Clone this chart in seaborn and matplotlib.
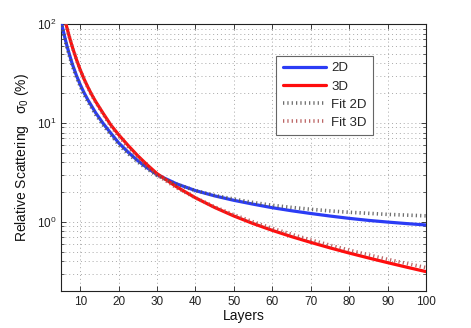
import matplotlib
matplotlib.use("Agg")
import matplotlib.pyplot as plt
import seaborn as sns
import numpy as np
from matplotlib.ticker import LogLocator, FixedLocator, NullFormatter

# ---- data ----
x_2d = [5.2, 5.5, 6, 6.5, 7, 7.5, 8, 9, 10, 11, 12, 14, 16, 18, 20, 22.5, 25, 27.5, 30,
        35, 40, 45, 50, 55, 60, 65, 70, 75, 80, 85, 90, 95, 100]
y_2d = [100, 88.4, 73, 61.2, 52.2, 44.9, 38.8, 30.3, 24.4, 20.2, 17.1, 12.7, 9.85, 7.85,
        6.3, 5.05, 4.15, 3.5, 3.0, 2.43, 2.07, 1.83, 1.65, 1.51, 1.39, 1.295, 1.215, 1.145,
        1.085, 1.035, 0.995, 0.96, 0.93]

x_3d = [6.3, 6.5, 7, 7.5, 8, 9, 10, 11, 12, 13, 14, 16, 18, 20, 22.5, 25, 27.5, 30,
        35, 40, 45, 50, 55, 60, 65, 70, 75, 80, 85, 90, 95, 100]
y_3d = [100, 93.1, 78.5, 67, 57.7, 44, 34.5, 27.8, 23.0, 19.3, 16.5, 12.45, 9.5, 7.6,
        5.9, 4.65, 3.75, 3.07, 2.27, 1.75, 1.397, 1.146, 0.961, 0.82, 0.709, 0.62, 0.546,
        0.484, 0.432, 0.387, 0.348, 0.314]

x_fit2d = [5.2, 5.5, 6, 6.5, 7, 7.5, 8, 9, 10, 11, 12, 14, 16, 18, 20, 22.5, 25, 27.5, 30,
           35, 40, 45, 50, 55, 60, 65, 70, 75, 80, 85, 90, 95, 100]
y_fit2d = [96, 85, 70, 58.8, 50.1, 43.1, 37.2, 29.1, 23.4, 19.4, 16.4, 12.2, 9.46, 7.54,
           6.05, 4.87, 4.02, 3.41, 2.94, 2.41, 2.07, 1.85, 1.7, 1.57, 1.47, 1.4, 1.34, 1.29,
           1.25, 1.22, 1.19, 1.17, 1.15]

x_fit3d = [6.3, 6.5, 7, 7.5, 8, 9, 10, 11, 12, 13, 14, 16, 18, 20, 22.5, 25, 27.5, 30,
           35, 40, 45, 50, 55, 60, 65, 70, 75, 80, 85, 90, 95, 100]
y_fit3d = [100, 93, 78.3, 66.8, 57.5, 43.8, 34.3, 27.6, 22.8, 19.1, 16.3, 12.2, 9.27, 7.37,
           5.72, 4.51, 3.64, 2.98, 2.22, 1.75, 1.418, 1.18, 1.0, 0.861, 0.748, 0.657, 0.581,
           0.518, 0.464, 0.418, 0.379, 0.345]

x_ticks = [10, 20, 30, 40, 50, 60, 70, 80, 90, 100]

# ---- figure ----
sns.set_style("ticks")
plt.rcParams['font.family'] = ['Liberation Sans', 'DejaVu Sans']
plt.rcParams['mathtext.fontset'] = 'custom'
plt.rcParams['mathtext.rm'] = 'Liberation Sans'
plt.rcParams['mathtext.it'] = 'Liberation Sans:italic'

fig = plt.figure(figsize=(4.71, 3.28), dpi=100)
ax = fig.add_axes([61/471, 1-291/328, (426-61)/471, (291-24)/328])

blue = '#2b3cf5'
red = '#ff0d0d'

sns.lineplot(x=x_2d, y=y_2d, ax=ax, color=blue, lw=2.3, label='2D', zorder=3)
sns.lineplot(x=x_3d, y=y_3d, ax=ax, color=red, lw=2.3, label='3D', zorder=3)
sns.lineplot(x=x_fit2d, y=y_fit2d, ax=ax, color='#555555', lw=2.6, label='Fit 2D', zorder=4)
sns.lineplot(x=x_fit3d, y=y_fit3d, ax=ax, color='#b04a4a', lw=2.6, label='Fit 3D', zorder=4)
lines = ax.get_lines()
for ln in lines[2:4]:
    ln.set_dashes((0.35, 0.85))
    ln.set_alpha(0.85)

ax.set_yscale('log')
ax.set_xlim(5, 100)
ax.set_ylim(0.2, 100)
ax.xaxis.set_major_locator(FixedLocator(x_ticks))
ax.yaxis.set_major_locator(LogLocator(base=10, numticks=10))
ax.yaxis.set_minor_locator(LogLocator(base=10, subs=np.arange(2, 10), numticks=20))
ax.yaxis.set_minor_formatter(NullFormatter())

grid_kw = dict(ls=(0, (1, 3)), lw=0.7, color='#a8a8a8')
ax.grid(True, which='major', axis='both', **grid_kw)
ax.grid(True, which='minor', axis='y', **grid_kw)

ax.tick_params(which='both', direction='in', top=True, right=True, labelsize=8.5,
               colors='#222222')
ax.tick_params(which='major', length=3.5, width=0.6)
ax.tick_params(which='minor', length=2, width=0.5)
for s in ax.spines.values():
    s.set_visible(True)
    s.set_linewidth(0.8)
    s.set_color('#222222')

ax.set_xlabel('Layers', fontsize=10, labelpad=1, color='#111111')
ax.set_ylabel('Relative Scattering   σ$_0$ (%)', fontsize=10, labelpad=4, color='#111111')

leg = ax.legend(loc='upper left', bbox_to_anchor=(0.589, 0.882), fontsize=9.5,
                frameon=True, fancybox=False, edgecolor='#666666', framealpha=1,
                handlelength=3.3, handletextpad=0.4, borderpad=0.5, labelspacing=0.45,
                borderaxespad=0)
leg.get_frame().set_linewidth(0.8)

fig.savefig('out.png', dpi=100)
